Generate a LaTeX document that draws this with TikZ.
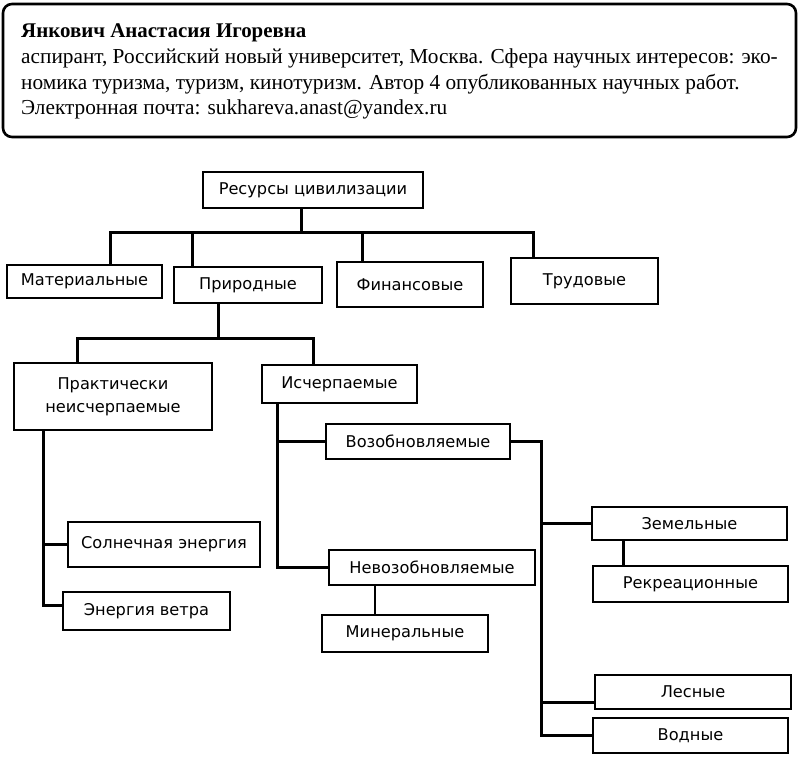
\documentclass[tikz,border=0pt]{standalone}
\usepackage{fontspec}
\setmainfont{Liberation Serif}
\newfontfamily\dej{DejaVu Sans}
\begin{document}
\begin{tikzpicture}[x=1pt,y=-1pt,
  box/.style={draw, fill=white, line width=2.6pt, inner sep=0pt, align=center,
    font=\dej\fontsize{16.2}{23}\selectfont},
  link/.style={line width=3pt},
  thinlink/.style={line width=2.2pt},
  info/.style={anchor=base west, inner sep=0pt, font=\fontsize{21.3}{25}\selectfont},
]
\useasboundingbox (0,0) rectangle (800,756);
% author box
\draw[line width=2.6pt, rounded corners=9pt] (3,4) rectangle (796,137);
\node[info, font=\bfseries\fontsize{20.9}{25}\selectfont] (name) at (21,37) {Янкович Анастасия Игоревна};
\node[info] (l1) at (21,63) {аспирант, Российский новый университет, Москва. Сфера научных интересов: эко-};
\node[info] (l2) at (21,89) {номика туризма, туризм, кинотуризм. Автор 4 опубликованных научных работ.};
\node[info] (l3) at (21,114) {Электронная почта: sukhareva.anast@yandex.ru};
% boxes
\node[box, minimum width=220, minimum height=36] (res) at (313,190) {Ресурсы цивилизации};
\node[box, minimum width=155, minimum height=33] (mat) at (84.5,281.5) {Материальные};
\node[box, minimum width=148, minimum height=36] (prir) at (248,285) {Природные};
\node[box, minimum width=146, minimum height=45] (fin) at (410,284.5) {Финансовые};
\node[box, minimum width=147, minimum height=46] (trud) at (584.5,281) {Трудовые};
\node[box, minimum width=198, minimum height=67] (prak) at (113,396.5) {Практически\\неисчерпаемые};
\node[box, minimum width=155, minimum height=38] (isch) at (339.5,384) {Исчерпаемые};
\node[box, minimum width=184, minimum height=35] (voz) at (418,441.5) {Возобновляемые};
\node[box, minimum width=206, minimum height=35] (nevoz) at (432,567.5) {Невозобновляемые};
\node[box, minimum width=166, minimum height=37] (min) at (405,633.5) {Минеральные};
\node[box, minimum width=192, minimum height=45] (sol) at (164,544.5) {Солнечная энергия};
\node[box, minimum width=167, minimum height=38] (vet) at (146.5,611) {Энергия ветра};
\node[box, minimum width=195, minimum height=33] (zem) at (689.5,523.5) {Земельные};
\node[box, minimum width=195, minimum height=36] (rek) at (690.5,584) {Рекреационные};
\node[box, minimum width=196, minimum height=34] (les) at (693,692) {Лесные};
\node[box, minimum width=195, minimum height=35] (vod) at (690.5,735.5) {Водные};
% connectors
\coordinate (b1) at (301,232);
\draw[link] (res.south -| b1) -- (b1);
\draw[link] (mat.north -| 110,0) |- (b1) -| (trud.north -| 533,0);
\draw[link] (prir.north -| 192,0) -- (192,232);
\draw[link] (fin.north -| 362,0) -- (362,232);
\coordinate (b2) at (218,338);
\draw[link] (prir.south -| b2) -- (b2);
\draw[link] (prak.north -| 77,0) |- (b2) -| (isch.north -| 313,0);
\draw[link] (isch.south -| 277,0) |- (nevoz.west);
\draw[link] (voz.west) -- (voz.west -| 277,0);
\draw[thinlink] (nevoz.south -| 375,0) -- (min.north -| 375,0);
\draw[link] (voz.east) -| (vod.west -| 541,0) -- (vod.west);
\draw[link] (zem.west) -- (zem.west -| 541,0);
\draw[link] ([yshift=-10pt]les.west) -- ([yshift=-10pt]les.west -| 541,0);
\draw[link] (zem.south -| 623,0) -- (rek.north -| 623,0);
\draw[link] (prak.south -| 43,0) |- ([yshift=6pt]vet.west);
\draw[link] (sol.west) -- (sol.west -| 43,0);
\end{tikzpicture}
\end{document}
